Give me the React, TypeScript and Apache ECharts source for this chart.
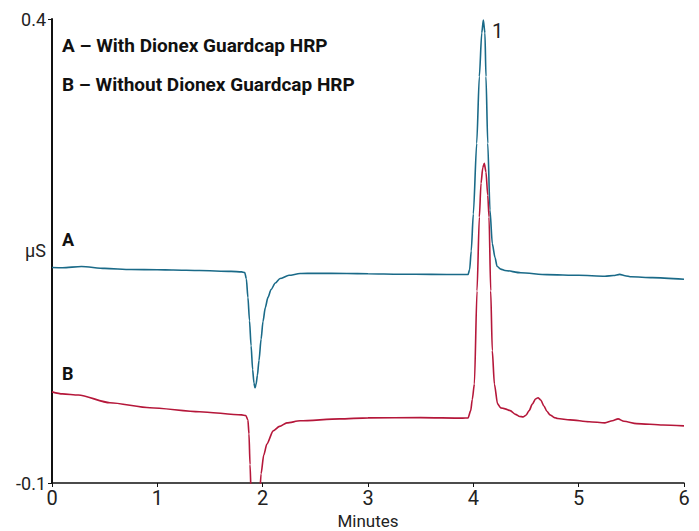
import React, { useEffect, useRef } from "react";
import * as echarts from "echarts";

const FONT = "Roboto, 'Liberation Sans', sans-serif";

const xTicks = [0, 1, 2, 3, 4, 5, 6];
const yTickValues = [-0.1, 0.4];

const traceA: [number, number][] = [
  [0, 0.1322], [0.1, 0.132], [0.28, 0.1333], [0.5, 0.1313], [0.75, 0.13],
  [1.0, 0.1298], [1.15, 0.1295], [1.4, 0.129], [1.7, 0.128], [1.8, 0.1275],
  [1.83, 0.1268], [1.845, 0.12], [1.86, 0.1], [1.875, 0.075], [1.89, 0.048],
  [1.905, 0.022], [1.917, 0.008], [1.927, 0.0026], [1.937, 0.006], [1.95, 0.016],
  [1.965, 0.032], [1.985, 0.055], [2.003, 0.074], [2.025, 0.089], [2.05, 0.1],
  [2.08, 0.1085], [2.12, 0.1155], [2.165, 0.1203], [2.25, 0.1238], [2.355, 0.1257],
  [2.5, 0.126], [2.8, 0.1257], [3.0, 0.1255], [3.3, 0.125], [3.6, 0.1248],
  [3.9, 0.1246], [3.95, 0.1248], [3.965, 0.13], [3.98, 0.15], [4.0, 0.19],
  [4.032, 0.266], [4.057, 0.338], [4.08, 0.385], [4.095, 0.3989], [4.11, 0.385],
  [4.12, 0.338], [4.137, 0.266], [4.158, 0.194], [4.18, 0.158], [4.206, 0.143],
  [4.225, 0.1335], [4.26, 0.1305], [4.3, 0.129], [4.45, 0.1265], [4.7, 0.1245],
  [5.0, 0.1238], [5.25, 0.1228], [5.33, 0.1236], [5.39, 0.1248], [5.44, 0.1234],
  [5.5, 0.1222], [5.7, 0.1213], [6.0, 0.1195],
];

const traceB: [number, number][] = [
  [0, -0.0018], [0.1, -0.004], [0.25, -0.0052], [0.55, -0.0135], [0.93, -0.0189],
  [1.4, -0.0232], [1.8, -0.0266], [1.84, -0.0272], [1.86, -0.032], [1.87, -0.047],
  [1.88, -0.08], [1.89, -0.11], [1.93, -0.145], [1.97, -0.115], [1.985, -0.09],
  [2.01, -0.07], [2.04, -0.0579], [2.1, -0.0438], [2.16, -0.039], [2.23, -0.0352],
  [2.355, -0.033], [2.73, -0.0309], [3.0, -0.0298], [3.5, -0.0295], [3.9, -0.0301],
  [3.95, -0.0298], [3.975, -0.022], [3.99, -0.01], [4.01, 0.0066], [4.035, 0.107],
  [4.057, 0.1865], [4.073, 0.223], [4.09, 0.24], [4.104, 0.2445], [4.12, 0.235],
  [4.137, 0.21], [4.149, 0.1865], [4.165, 0.107], [4.18, 0.0426], [4.2, 0.0066],
  [4.23, -0.0147], [4.26, -0.019], [4.301, -0.0201], [4.35, -0.022], [4.4, -0.026],
  [4.44, -0.0283], [4.472, -0.0287], [4.5, -0.027], [4.53, -0.022], [4.56, -0.015],
  [4.59, -0.0095], [4.614, -0.0082], [4.64, -0.0105], [4.67, -0.017], [4.7, -0.023],
  [4.728, -0.0266], [4.77, -0.0295], [4.8, -0.0305], [4.918, -0.032], [5.1, -0.034],
  [5.25, -0.0352], [5.32, -0.033], [5.374, -0.0309], [5.43, -0.0335], [5.55, -0.036],
  [5.8, -0.0375], [6.0, -0.0384],
];

const legendLines = ["A – With Dionex Guardcap HRP", "B – Without Dionex Guardcap HRP"];
const traceLabels = ["A", "B"];
const peakLabels = ["1"];

export default function App() {
  const ref = useRef<HTMLDivElement>(null);
  useEffect(() => {
    if (!ref.current) return;
    const chart = echarts.init(ref.current, null, { renderer: "svg" });
    chart.setOption({
      animation: false,
      backgroundColor: "#ffffff",
      grid: { left: 52, right: 15, top: 19, bottom: 48, outerBoundsMode: "none", containLabel: false },
      xAxis: {
        type: "value",
        min: 0,
        max: 6,
        interval: 1,
        name: "Minutes",
        nameLocation: "middle",
        nameGap: 28,
        nameTextStyle: { fontFamily: FONT, fontSize: 17, color: "#222" },
        axisLine: { show: true, onZero: false, lineStyle: { color: "#111", width: 1.5 } },
        axisTick: { show: true, length: 4, lineStyle: { color: "#111" }, customValues: xTicks },
        axisLabel: { fontFamily: FONT, fontSize: 20, color: "#222", margin: 5, customValues: xTicks },
        splitLine: { show: false },
      },
      yAxis: {
        type: "value",
        min: -0.1,
        max: 0.4,
        axisLine: { show: true, onZero: false, lineStyle: { color: "#111", width: 2 } },
        axisTick: { show: true, length: 4, lineStyle: { color: "#111" }, customValues: yTickValues },
        axisLabel: {
          fontFamily: FONT,
          fontSize: 18,
          color: "#222",
          margin: 6,
          customValues: yTickValues,
          formatter: (v: number) => (Math.abs(v - 0.4) < 1e-9 ? "0.4" : "-0.1"),
        },
        splitLine: { show: false },
      },
      series: [
        {
          type: "line",
          data: traceA,
          showSymbol: false,
          smooth: 0.25,
          smoothMonotone: "x",
          lineStyle: { color: "#1a6a88", width: 1.6 },
          clip: true,
        },
        {
          type: "line",
          data: traceB,
          showSymbol: false,
          smooth: 0.25,
          smoothMonotone: "x",
          lineStyle: { color: "#b5173a", width: 1.6 },
          clip: true,
        },
      ],
      graphic: [
        {
          type: "text",
          left: 62,
          top: 36,
          style: { text: legendLines[0], fontFamily: FONT, fontSize: 19, fontWeight: "bold", fill: "#111" },
        },
        {
          type: "text",
          left: 62,
          top: 75,
          style: { text: legendLines[1], fontFamily: FONT, fontSize: 19, fontWeight: "bold", fill: "#111" },
        },
        {
          type: "text",
          left: 62,
          top: 230,
          style: { text: traceLabels[0], fontFamily: FONT, fontSize: 18, fontWeight: "bold", fill: "#111" },
        },
        {
          type: "text",
          left: 62,
          top: 364,
          style: { text: traceLabels[1], fontFamily: FONT, fontSize: 18, fontWeight: "bold", fill: "#111" },
        },
        {
          type: "text",
          left: 492,
          top: 21,
          style: { text: peakLabels[0], fontFamily: FONT, fontSize: 20, fill: "#222" },
        },
        {
          type: "text",
          left: 25,
          top: 241,
          style: { text: "µS", fontFamily: FONT, fontSize: 18, fill: "#222" },
        },
      ],
    });
    return () => chart.dispose();
  }, []);
  return <div ref={ref} style={{ width: 699, height: 531, position: "fixed", left: 0, top: 0 }} />;
}
